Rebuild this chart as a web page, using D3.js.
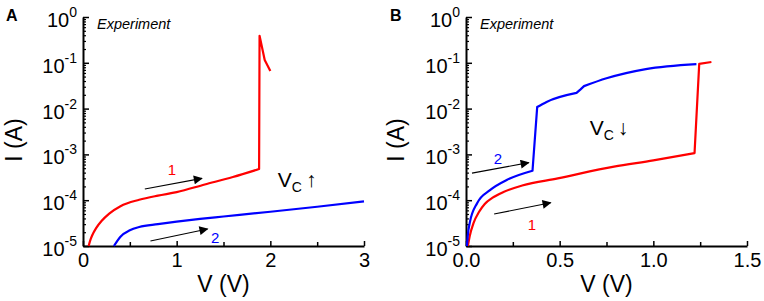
<!DOCTYPE html>
<html>
<head>
<meta charset="utf-8">
<script src="https://cdnjs.cloudflare.com/ajax/libs/d3/7.8.5/d3.min.js"></script>
<style>
  body { margin: 0; background: #fff; }
  svg { font-family: "Liberation Sans", Arial, sans-serif; }
</style>
</head>
<body>
<svg id="chart" width="764" height="301"></svg>
<script>
// Panel A (Vc increasing) data
const voltA1 = [0.06, 0.08, 0.1, 0.14, 0.2, 0.28, 0.4, 0.6, 0.8, 1.0, 1.3, 1.6, 1.88, 1.885, 1.94, 2.0];
const currA1 = [1e-5, 1.38e-5, 1.74e-5, 2.45e-5, 3.55e-5, 5.1e-5, 7.4e-5, 1.02e-4, 1.26e-4, 1.5e-4, 2.2e-4, 3.2e-4, 4.8e-4, 0.39, 0.115, 0.066];
const voltA2 = [0.33, 0.4, 0.5, 0.6, 0.8, 1.0, 1.25, 1.5, 2.0, 2.5, 3.0];
const currA2 = [1e-5, 1.6e-5, 2.2e-5, 2.6e-5, 3.0e-5, 3.4e-5, 3.9e-5, 4.4e-5, 5.6e-5, 7.2e-5, 9.4e-5];

// Panel B (Vc decreasing) data
const voltB1 = [0.01, 0.02, 0.04, 0.07, 0.1, 0.14, 0.2, 0.3, 0.49, 0.79, 1.0, 1.22, 1.245, 1.31];
const currB1 = [1e-5, 1.66e-5, 3.16e-5, 5.6e-5, 8.3e-5, 1.12e-4, 1.51e-4, 2.09e-4, 3.0e-4, 5.4e-4, 7.4e-4, 1.07e-3, 9.5e-2, 1.04e-1];
const voltB2 = [0.005, 0.01, 0.02, 0.06, 0.128, 0.22, 0.355, 0.38, 0.43, 0.59, 0.61, 0.63, 0.75, 0.96, 1.23];
const currB2 = [1e-5, 1.78e-5, 3.2e-5, 8.7e-5, 1.66e-4, 2.8e-4, 4.4e-4, 1.08e-2, 1.4e-2, 2.2e-2, 2.6e-2, 3.1e-2, 4.6e-2, 7.3e-2, 9.4e-2];

// tick labels
const yExponents = [0, -1, -2, -3, -4, -5];
const xTicksA = [0, 1, 2, 3];
const xMinorA = [0.5, 1.5, 2.5];
const xTicksB = [0, 0.5, 1.0, 1.5];
const xMinorB = [0.25, 0.75, 1.25];

const svg = d3.select('#chart');

// arrow head marker
svg.append('defs').append('marker')
    .attr('id', 'head')
    .attr('viewBox', '0 0 10 10')
    .attr('refX', 9).attr('refY', 5)
    .attr('markerWidth', 13).attr('markerHeight', 9)
    .attr('markerUnits', 'userSpaceOnUse')
    .attr('orient', 'auto')
    .append('path')
    .attr('d', 'M0,0 L10,5 L0,10 Z')
    .attr('fill', '#000');

function zip(v, c) {
    return v.map((d, i) => ({ v: d, i: c[i] }));
}

// split a curve into runs: segment i -> i+1 is straight if i is in `straight`
function runs(data, straight) {
    const out = [];
    let cur = [data[0]];
    let kind = straight.includes(0) ? 'lin' : 'smooth';
    for (let i = 0; i < data.length - 1; i++) {
        const k = straight.includes(i) ? 'lin' : 'smooth';
        if (k !== kind) {
            out.push({ kind, pts: cur });
            cur = [data[i]];
            kind = k;
        }
        cur.push(data[i + 1]);
    }
    out.push({ kind, pts: cur });
    return out;
}

// Function to draw one panel
function drawPanel(cfg) {
    const x = d3.scaleLinear().domain(cfg.xDomain).range(cfg.xRange);
    const y = d3.scaleLog().domain([1e-5, 1]).range([246, 17]);
    const g = svg.append('g');
    const x0 = cfg.xRange[0];

    // panel letter
    g.append('text').attr('x', cfg.letterX).attr('y', 21)
        .attr('font-size', 16).attr('font-weight', 'bold').text(cfg.letter);

    // minor y ticks
    const minor = [];
    yExponents.slice(1).forEach(e => {
        for (let k = 2; k <= 9; k++) minor.push(k * Math.pow(10, e));
    });
    g.append('g').attr('transform', `translate(${x0},0)`)
        .call(d3.axisLeft(y).tickValues(minor).tickSize(-3).tickSizeOuter(0).tickFormat(''))
        .call(s => s.select('.domain').remove())
        .call(s => s.selectAll('line').attr('stroke-width', 1.2));
    // major y ticks
    g.append('g').attr('transform', `translate(${x0},0)`)
        .call(d3.axisLeft(y).tickValues(yExponents.map(e => Math.pow(10, e))).tickSize(-6).tickSizeOuter(0).tickFormat(''))
        .call(s => s.select('.domain').attr('stroke-width', 2))
        .call(s => s.selectAll('line').attr('stroke-width', 1.5));

    // y tick labels as 10^n
    yExponents.forEach(e => {
        const t = g.append('text')
            .attr('x', x0 - 6).attr('y', y(Math.pow(10, e)) + 10)
            .attr('text-anchor', 'end').attr('font-size', 20);
        t.append('tspan').text('10');
        t.append('tspan').attr('font-size', 14).attr('dy', -10).text(String(e));
    });

    // x axis
    g.append('g').attr('transform', 'translate(0,246)')
        .call(d3.axisBottom(x).tickValues(cfg.xMinor).tickSize(-4).tickSizeOuter(0).tickFormat(''))
        .call(s => s.select('.domain').remove())
        .call(s => s.selectAll('line').attr('stroke-width', 1.5));
    g.append('g').attr('transform', 'translate(0,246)')
        .call(d3.axisBottom(x).tickValues(cfg.xTicks).tickSize(-5).tickSizeOuter(0).tickFormat(cfg.xFormat))
        .call(s => s.select('.domain').attr('stroke-width', 2))
        .call(s => s.selectAll('line').attr('stroke-width', 1.5))
        .call(s => s.selectAll('text').attr('font-size', 20).attr('fill', '#000')
            .attr('font-family', '"Liberation Sans", Arial, sans-serif').attr('y', 7).attr('dy', '0.71em'));

    // axis titles
    const xm = (cfg.xRange[0] + cfg.xRange[1]) / 2;
    g.append('text').attr('x', xm).attr('y', 292).attr('text-anchor', 'middle')
        .attr('font-size', 23).text('V (V)');
    g.append('text').attr('transform', `translate(${cfg.yTitleX},140) rotate(-90)`)
        .attr('text-anchor', 'middle').attr('font-size', 23).text('I (A)');

    g.append('text').attr('x', x0 + 14).attr('y', 29)
        .attr('font-size', 14.5).attr('font-style', 'italic').text('Experiment');

    // curves (smooth runs with monotone interpolation, jumps straight)
    const smooth = d3.line().x(d => x(d.v)).y(d => y(d.i)).curve(d3.curveMonotoneX);
    const straight = d3.line().x(d => x(d.v)).y(d => y(d.i));
    cfg.curves.forEach(c => {
        const d = runs(c.data, c.straight)
            .map(r => (r.kind === 'lin' ? straight : smooth)(r.pts))
            .map((p, k) => k === 0 ? p : p.replace(/^M[^A-Za-z]*/, ''))
            .join('');
        g.append('path')
            .attr('d', d).attr('fill', 'none')
            .attr('stroke', c.color).attr('stroke-width', 2.2)
            .attr('stroke-linejoin', 'round');
    });

    // annotation arrows and labels
    cfg.arrows.forEach(a => {
        g.append('line')
            .attr('x1', x(a[0])).attr('y1', y(a[1]))
            .attr('x2', x(a[2])).attr('y2', y(a[3]))
            .attr('stroke', '#000').attr('stroke-width', 1.1)
            .attr('marker-end', 'url(#head)');
    });
    cfg.labels.forEach(l => {
        g.append('text').attr('x', x(l.v)).attr('y', y(l.i))
            .attr('text-anchor', 'middle').attr('font-size', 15)
            .attr('fill', l.color).text(l.text);
    });

    // Vc label
    const vc = g.append('text').attr('x', x(cfg.vc.v)).attr('y', y(cfg.vc.i)).attr('font-size', 21);
    vc.append('tspan').text('V');
    vc.append('tspan').attr('font-size', 14).attr('dy', 5).text('C');
    vc.append('tspan').attr('dy', -5).attr('dx', 4).text(cfg.vc.arrow);
}

drawPanel({
    letter: 'A', letterX: 6, yTitleX: 22,
    xDomain: [0, 3], xRange: [83, 364],
    xTicks: xTicksA, xMinor: xMinorA, xFormat: d3.format('d'),
    curves: [
        { color: '#ff0000', data: zip(voltA1, currA1), straight: [12, 13, 14] },
        { color: '#0000ff', data: zip(voltA2, currA2), straight: [] }
    ],
    arrows: [[0.66, 1.75e-4, 1.27, 3.0e-4], [0.72, 1.29e-5, 1.33, 2.35e-5]],
    labels: [
        { text: '1', color: '#ff0000', v: 0.95, i: 3.6e-4 },
        { text: '2', color: '#0000ff', v: 1.41, i: 1.15e-5 }
    ],
    vc: { v: 2.08, i: 1.9e-4, arrow: '\u2191' }
});

drawPanel({
    letter: 'B', letterX: 390, yTitleX: 404,
    xDomain: [0, 1.5], xRange: [466, 747],
    xTicks: xTicksB, xMinor: xMinorB, xFormat: d3.format('.1f'),
    curves: [
        { color: '#ff0000', data: zip(voltB1, currB1), straight: [11, 12] },
        { color: '#0000ff', data: zip(voltB2, currB2), straight: [6, 9, 10] }
    ],
    arrows: [[0.032, 3.9e-4, 0.335, 6.6e-4], [0.15, 5e-5, 0.452, 8.8e-5]],
    labels: [
        { text: '2', color: '#0000ff', v: 0.171, i: 6.3e-4 },
        { text: '1', color: '#ff0000', v: 0.352, i: 2.2e-5 }
    ],
    vc: { v: 0.66, i: 2.6e-3, arrow: '\u2193' }
});
</script>
</body>
</html>
